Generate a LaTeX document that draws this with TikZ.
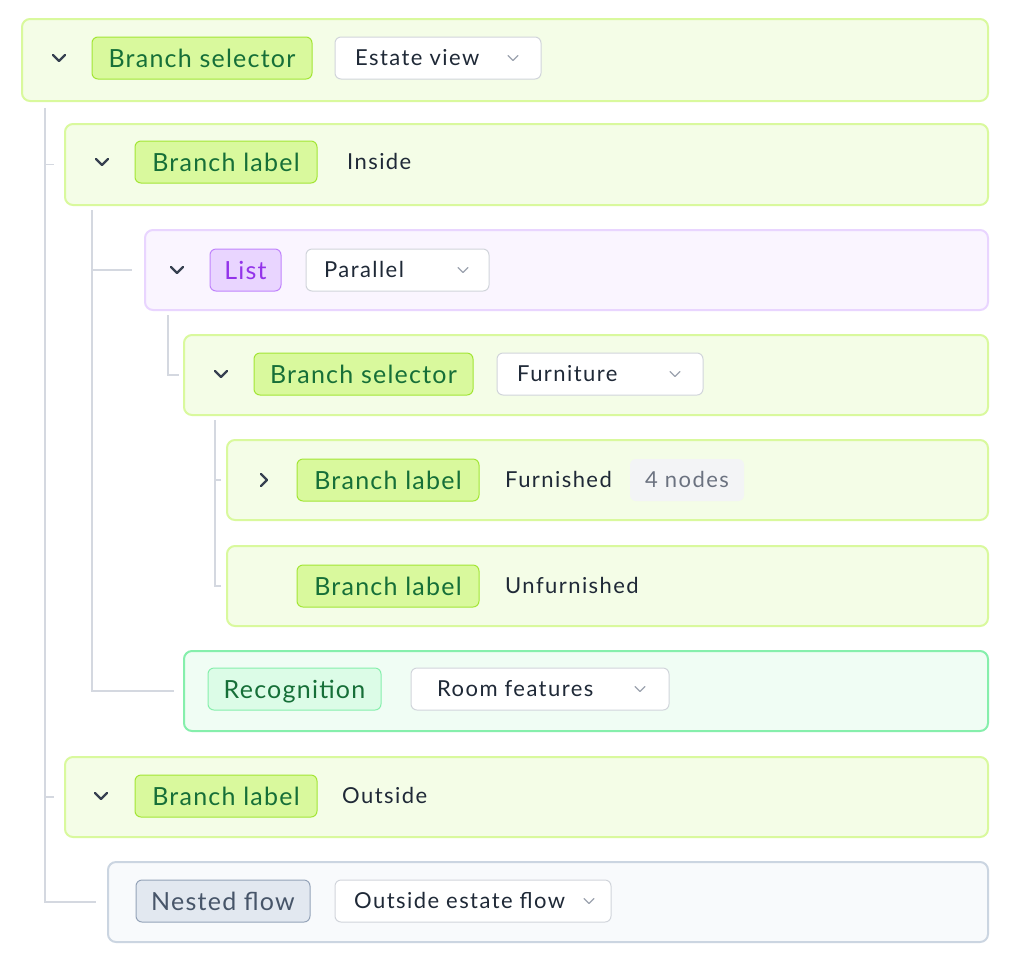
\documentclass[tikz,border=0pt]{standalone}
\usepackage{fontspec}
\setmainfont{Lato}
\newfontfamily\pillfont[LetterSpace=5]{Lato}
\newfontfamily\plainfont[LetterSpace=6.5]{Lato}
\usetikzlibrary{calc}
\definecolor{limebg}{HTML}{F4FDE7}
\definecolor{limebd}{HTML}{D9F99D}
\definecolor{limepill}{HTML}{D9F99D}
\definecolor{limepillbd}{HTML}{A3E635}
\definecolor{greentxt}{HTML}{166F38}
\definecolor{purpbg}{HTML}{FAF5FF}
\definecolor{purpbd}{HTML}{E9D5FF}
\definecolor{purppill}{HTML}{E9D5FF}
\definecolor{purppillbd}{HTML}{C084FC}
\definecolor{purptxt}{HTML}{9333EA}
\definecolor{mintbg}{HTML}{F0FDF4}
\definecolor{mintbd}{HTML}{86EFAC}
\definecolor{mintpill}{HTML}{DCFCE7}
\definecolor{slatebg}{HTML}{F8FAFC}
\definecolor{slatebd}{HTML}{CBD5E1}
\definecolor{slatepill}{HTML}{E2E8F0}
\definecolor{slatepillbd}{HTML}{94A3B8}
\definecolor{slatetxt}{HTML}{475569}
\definecolor{ddbd}{HTML}{D1D5DB}
\definecolor{darktxt}{HTML}{1F2937}
\definecolor{chevdark}{HTML}{374151}
\definecolor{chevlight}{HTML}{9CA3AF}
\definecolor{badgebg}{HTML}{F3F4F6}
\definecolor{badgetxt}{HTML}{6B7280}
\definecolor{linec}{HTML}{D4D8E0}
\tikzset{
  rowbox/.style={draw=limebd, fill=limebg, line width=2pt, rounded corners=8pt, inner sep=0pt, minimum height=81pt},
  purprow/.style={rowbox, draw=purpbd, fill=purpbg},
  mintrow/.style={rowbox, draw=mintbd, fill=mintbg},
  slaterow/.style={rowbox, draw=slatebd, fill=slatebg},
  pill/.style={draw=limepillbd, fill=limepill, line width=1pt, rounded corners=6pt, inner sep=0pt, minimum height=42pt, text=greentxt, font=\pillfont\fontsize{25}{29}\selectfont, text height=18pt, text depth=0pt},
  purppilltag/.style={pill, draw=purppillbd, fill=purppill, text=purptxt},
  mintpilltag/.style={pill, draw=mintbd, fill=mintpill, text=greentxt},
  slatepilltag/.style={pill, draw=slatepillbd, fill=slatepill, text=slatetxt},
  dropbox/.style={draw=ddbd, fill=white, line width=1pt, rounded corners=6pt, inner sep=0pt, minimum height=42pt},
  plain/.style={anchor=west, inner sep=0pt, text=darktxt, font=\plainfont\fontsize{22}{26}\selectfont, text height=15.8pt, text depth=0pt},
  badge/.style={fill=badgebg, rounded corners=6pt, inner sep=0pt, minimum height=42pt, text=badgetxt, font=\plainfont\fontsize{22}{26}\selectfont, text height=15.8pt, text depth=0pt},
  chev/.style={draw=chevdark, line width=2.4pt, line cap=round, line join=round},
  ddchev/.style={draw=chevlight, line width=1.3pt, line cap=round, line join=round},
  conn/.style={draw=linec, line width=1.5pt},
}
\newcommand\chevdown[2]{\draw[chev] (#1-6,#2-3) -- (#1,#2+3) -- (#1+6,#2-3);}
\newcommand\chevright[2]{\draw[chev] (#1-3,#2-6) -- (#1+3,#2) -- (#1-3,#2+6);}
\newcommand\ddchevron[2]{\draw[ddchev] (#1-5,#2-2.5) -- (#1,#2+2.5) -- (#1+5,#2-2.5);}
\begin{document}
\begin{tikzpicture}[x=1pt,y=-1pt]
\useasboundingbox[fill=white] (0,0) rectangle (1024,962);
% row boxes
\node[rowbox, minimum width=966pt, minimum height=82pt] (r1) at (505,60) {};
\node[rowbox, minimum width=923pt] (r2) at (526.5,164.5) {};
\node[purprow, minimum width=843pt, minimum height=80pt] (r3) at (566.5,270) {};
\node[rowbox, minimum width=804pt, minimum height=80pt] (r4) at (586,375) {};
\node[rowbox, minimum width=761pt, minimum height=80pt] (r5) at (607.5,480) {};
\node[rowbox, minimum width=761pt, minimum height=80pt] (r6) at (607.5,586) {};
\node[mintrow, minimum width=804pt, minimum height=80pt] (r7) at (586,691) {};
\node[rowbox, minimum width=923pt, minimum height=80pt] (r8) at (526.5,797) {};
\node[slaterow, minimum width=880pt, minimum height=80pt] (r9) at (548,902) {};
% connectors
\coordinate (trunk) at (45,108);
\coordinate (lvl2) at (92,210);
\coordinate (lvl3) at (168,315);
\coordinate (lvl4) at (215,420);
\draw[conn, shorten >=11pt] (trunk) |- (r9.west);
\draw[conn, shorten >=10pt] (r2.west -| trunk) -- (r2.west);
\draw[conn, shorten >=10pt] (r8.west -| trunk) -- (r8.west);
\draw[conn, shorten >=9pt] (lvl2) |- (r7.west);
\draw[conn, shorten >=12pt] (r3.west -| lvl2) -- (r3.west);
\draw[conn, shorten >=4pt] (lvl3) |- (r4.west);
\draw[conn, shorten >=5pt] (lvl4) |- (r6.west);
\draw[conn, shorten >=5pt] (r5.west -| lvl4) -- (r5.west);
% row 1
\chevdown{59}{58}
\node[pill, minimum width=220pt] (p1) at (202,58) {Branch selector};
\node[dropbox, minimum width=206pt] (d1) at (438,58) {};
\node[plain] (t1) at (355,58) {Estate view};
\ddchevron{513}{58}
% row 2
\chevdown{102}{162}
\node[pill, minimum width=182pt] (p2) at (226,162) {Branch label};
\node[plain] (t2) at (347,162) {Inside};
% row 3
\chevdown{177}{270}
\node[purppilltag, minimum width=71pt] (p3) at (245.5,270) {List};
\node[dropbox, minimum width=183pt] (d3) at (397.5,270) {};
\node[plain] (t3) at (324,270) {Parallel};
\ddchevron{463}{270}
% row 4
\chevdown{221}{374}
\node[pill, minimum width=219pt] (p4) at (363.5,374) {Branch selector};
\node[dropbox, minimum width=206pt] (d4) at (600,374) {};
\node[plain] (t4) at (517,374) {Furniture};
\ddchevron{675}{374}
% row 5
\chevright{264}{480}
\node[pill, minimum width=182pt] (p5) at (388,480) {Branch label};
\node[plain] (t5) at (505,480) {Furnished};
\node[badge, minimum width=114pt] (b5) at (687,480) {4 nodes};
% row 6
\node[pill, minimum width=182pt] (p6) at (388,586) {Branch label};
\node[plain] (t6) at (505,586) {Unfurnished};
% row 7
\node[mintpilltag, minimum width=173pt] (p7) at (294.5,689) {Recognition};
\node[dropbox, minimum width=258pt] (d7) at (540,689) {};
\node[plain] (t7) at (437,689) {Room features};
\ddchevron{640}{689}
% row 8
\chevdown{101}{796}
\node[pill, minimum width=182pt] (p8) at (226,796) {Branch label};
\node[plain] (t8) at (342,796) {Outside};
% row 9
\node[slatepilltag, minimum width=174pt] (p9) at (223,901) {Nested flow};
\node[dropbox, minimum width=276pt] (d9) at (473,901) {};
\node[plain] (t9) at (354,901) {Outside estate flow};
\ddchevron{589}{901}
\end{tikzpicture}
\end{document}
